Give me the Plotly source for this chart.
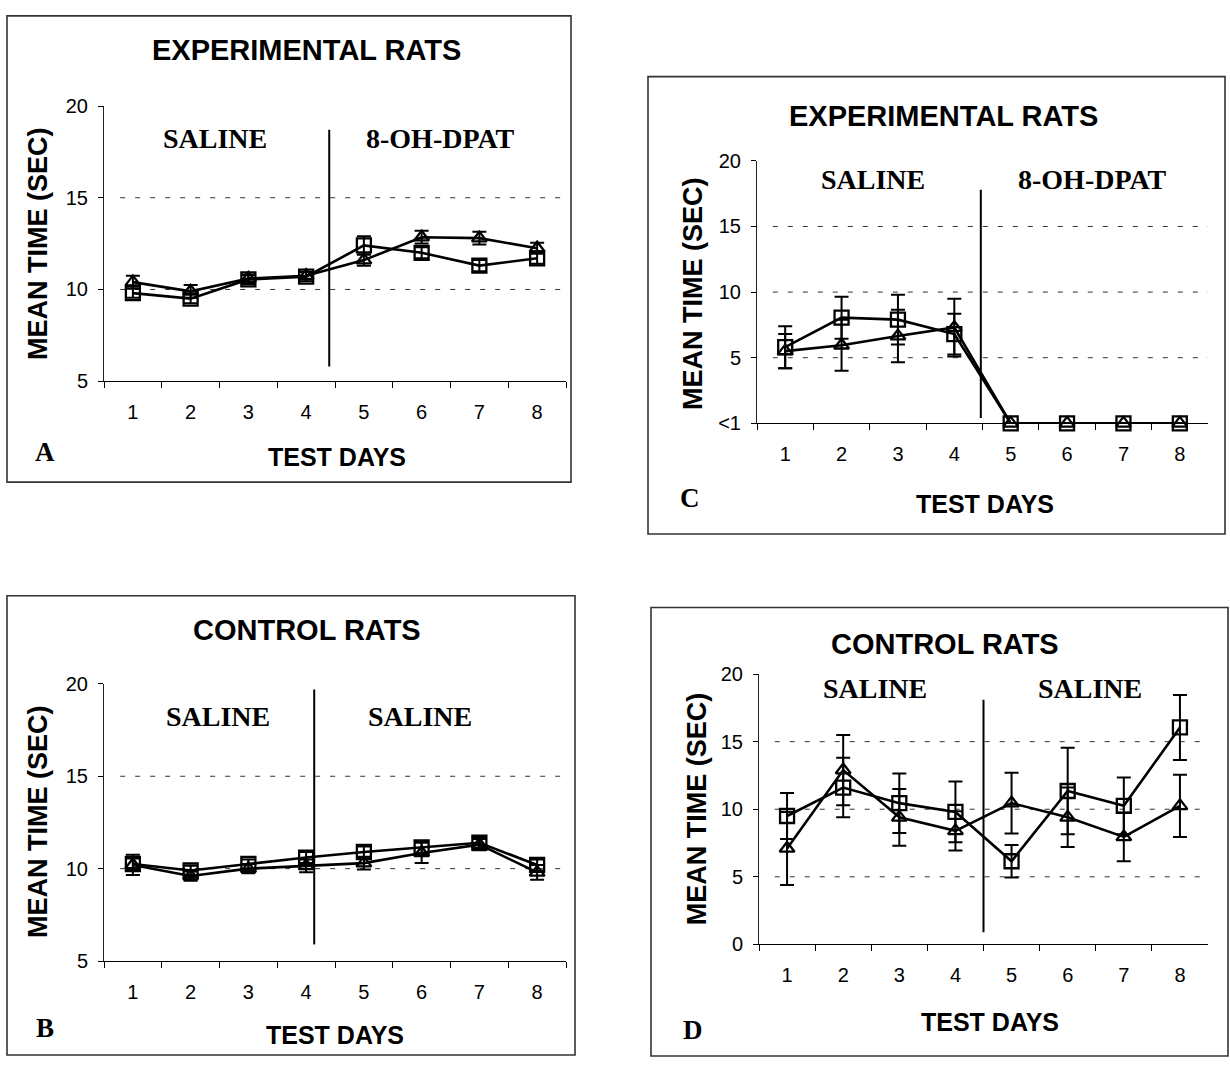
import plotly.graph_objects as go

# ---------------- data ----------------
days = ["1", "2", "3", "4", "5", "6", "7", "8"]

# Panel A: experimental rats (saline -> 8-OH-DPAT)
a_square = [9.8, 9.5, 10.55, 10.7, 12.4, 12.0, 11.3, 11.7]
a_square_err = [0.25, 0.25, 0.25, 0.25, 0.5, 0.3, 0.3, 0.3]
a_triangle = [10.4, 9.9, 10.6, 10.75, 11.6, 12.85, 12.8, 12.25]
a_triangle_err = [0.35, 0.35, 0.2, 0.2, 0.3, 0.35, 0.35, 0.3]

# Panel B: control rats (saline -> saline)
b_square = [10.25, 9.9, 10.25, 10.6, 10.9, 11.15, 11.4, 10.2]
b_square_err = [0.3, 0.25, 0.25, 0.3, 0.3, 0.35, 0.3, 0.3]
b_triangle = [10.2, 9.6, 10.0, 10.15, 10.3, 10.85, 11.3, 9.8]
b_triangle_err = [0.55, 0.25, 0.25, 0.35, 0.35, 0.55, 0.3, 0.4]

# Panel C: experimental rats (saline -> 8-OH-DPAT), "<1" plotted at 0
c_square = [5.8, 8.05, 7.9, 6.8, 0, 0, 0, 0]
c_square_err = [1.6, 1.6, 1.9, 1.55, 0, 0, 0, 0]
c_triangle = [5.5, 5.95, 6.65, 7.3, 0, 0, 0, 0]
c_triangle_err = [1.3, 1.95, 2.0, 2.2, 0, 0, 0, 0]

# Panel D: control rats (saline -> saline)
d_square = [9.5, 11.6, 10.45, 9.8, 6.15, 11.35, 10.25, 16.05]
d_square_err = [1.7, 2.2, 2.2, 2.25, 1.2, 3.2, 2.1, 2.4]
d_triangle = [7.1, 12.9, 9.4, 8.4, 10.45, 9.4, 7.95, 10.25]
d_triangle_err = [2.7, 2.6, 2.1, 1.45, 2.25, 2.2, 1.8, 2.3]

ab_yticks = [5, 10, 15, 20]
ab_yticktext = ["5", "10", "15", "20"]
cd_yticks = [0, 5, 10, 15, 20]
c_yticktext = ["<1", "5", "10", "15", "20"]
d_yticktext = ["0", "5", "10", "15", "20"]

titles = ["EXPERIMENTAL RATS", "CONTROL RATS", "EXPERIMENTAL RATS", "CONTROL RATS"]
phase_labels = [("SALINE", "8-OH-DPAT"), ("SALINE", "SALINE"),
                ("SALINE", "8-OH-DPAT"), ("SALINE", "SALINE")]
panel_letters = ["A", "B", "C", "D"]
x_title = "TEST DAYS"
y_title = "MEAN TIME (SEC)"

# ---------------- layout helpers ----------------
W, H = 1230, 1069


def px(x):
    return x / W


def py(y):
    return 1 - y / H


SANS = "Liberation Sans, Arial, sans-serif"
SERIF = "Liberation Serif, Times New Roman, serif"

panels = [
    dict(sq=a_square, sqe=a_square_err, tr=a_triangle, tre=a_triangle_err,
         box=(7, 5, 571, 481), plot=(104, 566, 97, 378), yr=(5, 20),
         yt=ab_yticks, ytt=ab_yticktext, grid=[10, 15],
         title_xy=(306, 40), ytitle_xy=(38, 238), xtitle_xy=(337, 455),
         letter_xy=(45, 450), lab_xy=[(215, 130), (440, 130)],
         sep=(3.4, 5.8, 18.7)),
    dict(sq=b_square, sqe=b_square_err, tr=b_triangle, tre=b_triangle_err,
         box=(7, 597, 575, 1066), plot=(104, 566, 687, 970), yr=(5, 20),
         yt=ab_yticks, ytt=ab_yticktext, grid=[10, 15],
         title_xy=(307, 632), ytitle_xy=(38, 828), xtitle_xy=(335, 1046),
         letter_xy=(45, 1038), lab_xy=[(218, 720), (420, 720)],
         sep=(3.14, 5.9, 19.7)),
    dict(sq=c_square, sqe=c_square_err, tr=c_triangle, tre=c_triangle_err,
         box=(648, 67, 1225, 534), plot=(757, 1208, 153, 421), yr=(0, 20),
         yt=cd_yticks, ytt=c_yticktext, grid=[5, 10, 15],
         title_xy=(943, 107), ytitle_xy=(693, 288), xtitle_xy=(985, 503),
         letter_xy=(690, 497), lab_xy=[(873, 172), (1092, 172)],
         sep=(3.47, 0.4, 17.8)),
    dict(sq=d_square, sqe=d_square_err, tr=d_triangle, tre=d_triangle_err,
         box=(651, 609, 1228, 1067), plot=(759, 1208, 677, 953), yr=(0, 20),
         yt=cd_yticks, ytt=d_yticktext, grid=[5, 10, 15],
         title_xy=(945, 646), ytitle_xy=(697, 815), xtitle_xy=(990, 1032),
         letter_xy=(693, 1040), lab_xy=[(875, 692), (1090, 692)],
         sep=(3.5, 0.9, 18.1)),
]

fig = go.Figure()
shapes = []
annotations = []
layout_axes = {}

for i, p in enumerate(panels):
    n = i + 1
    xa = "x" if n == 1 else f"x{n}"
    ya = "y" if n == 1 else f"y{n}"
    xkey = "xaxis" if n == 1 else f"xaxis{n}"
    ykey = "yaxis" if n == 1 else f"yaxis{n}"
    x0, x1, ytop, ybot = p["plot"]

    # lines with markers + error bars
    for vals, errs, sym, size in [(p["sq"], p["sqe"], "square-open", 14),
                                  (p["tr"], p["tre"], "triangle-up-open", 13)]:
        fig.add_trace(go.Scatter(
            x=days, y=vals, xaxis=xa, yaxis=ya, mode="lines+markers",
            line=dict(color="black", width=2.6),
            marker=dict(symbol=sym, size=size, color="black",
                        line=dict(color="black", width=2.3)),
            error_y=dict(type="data", array=errs, visible=True,
                         color="black", thickness=2, width=7),
            showlegend=False, cliponaxis=False))

    layout_axes[xkey] = dict(
        domain=[px(x0), px(x1)], anchor=ya, type="category",
        range=[-0.5, 7.5], tickson="boundaries", ticks="outside",
        ticklen=6, tickwidth=1, tickcolor="black", showline=True,
        linecolor="black", linewidth=1, showgrid=False, zeroline=False,
        tickfont=dict(family=SANS, size=20, color="black"),
        ticklabelstandoff=13, fixedrange=True)
    layout_axes[ykey] = dict(
        domain=[py(ybot), py(ytop)], anchor=xa, range=list(p["yr"]),
        tickvals=p["yt"], ticktext=p["ytt"], ticks="outside", ticklen=5,
        tickwidth=1, tickcolor="black", showline=True, linecolor="#222",
        linewidth=1, showgrid=False, zeroline=False,
        tickfont=dict(family=SANS, size=20, color="black"),
        ticklabelstandoff=6, fixedrange=True)

    # gridlines (dashed)
    for g in p["grid"]:
        shapes.append(dict(type="line", xref=f"{xa} domain", yref=ya,
                           x0=0.035, x1=1, y0=g, y1=g,
                           line=dict(color="#333", width=1, dash="5px,10px"),
                           layer="below"))
    # phase separator
    sx, sy0, sy1 = p["sep"]
    shapes.append(dict(type="line", xref=xa, yref=ya, x0=sx, x1=sx,
                       y0=sy0, y1=sy1, line=dict(color="black", width=2)))
    # panel frame
    bx0, by0, bx1, by1 = p["box"]
    shapes.append(dict(type="rect", xref="paper", yref="paper",
                       x0=px(bx0), x1=px(bx1), y0=py(by1), y1=py(by0),
                       line=dict(color="#333", width=1.6)))

    # texts
    tx, ty = p["title_xy"]
    annotations.append(dict(text=f"<b>{titles[i]}</b>", x=px(tx), y=py(ty),
                            xref="paper", yref="paper", showarrow=False,
                            xanchor="center", yanchor="middle",
                            font=dict(family=SANS, size=29, color="black")))
    tx, ty = p["xtitle_xy"]
    annotations.append(dict(text=f"<b>{x_title}</b>", x=px(tx), y=py(ty),
                            xref="paper", yref="paper", showarrow=False,
                            xanchor="center", yanchor="middle",
                            font=dict(family=SANS, size=25, color="black")))
    tx, ty = p["ytitle_xy"]
    annotations.append(dict(text=f"<b>{y_title}</b>", x=px(tx), y=py(ty),
                            xref="paper", yref="paper", showarrow=False,
                            textangle=-90, xanchor="center", yanchor="middle",
                            font=dict(family=SANS, size=27, color="black")))
    tx, ty = p["letter_xy"]
    annotations.append(dict(text=f"<b>{panel_letters[i]}</b>", x=px(tx),
                            y=py(ty), xref="paper", yref="paper",
                            showarrow=False, xanchor="center",
                            yanchor="middle",
                            font=dict(family=SERIF, size=27, color="black")))
    for lab, (lx, ly) in zip(phase_labels[i], p["lab_xy"]):
        annotations.append(dict(text=f"<b>{lab}</b>", x=px(lx), y=py(ly),
                                xref="paper", yref="paper", showarrow=False,
                                xanchor="center", yanchor="middle",
                                font=dict(family=SERIF, size=28,
                                          color="black")))

fig.update_layout(
    width=W, height=H, margin=dict(l=0, r=0, t=0, b=0),
    paper_bgcolor="white", plot_bgcolor="white",
    shapes=shapes, annotations=annotations, **layout_axes)

fig.write_html("out.html", config={"displayModeBar": False},
               post_script="document.body.style.margin='0px';"
                           "document.body.style.padding='0px';")
